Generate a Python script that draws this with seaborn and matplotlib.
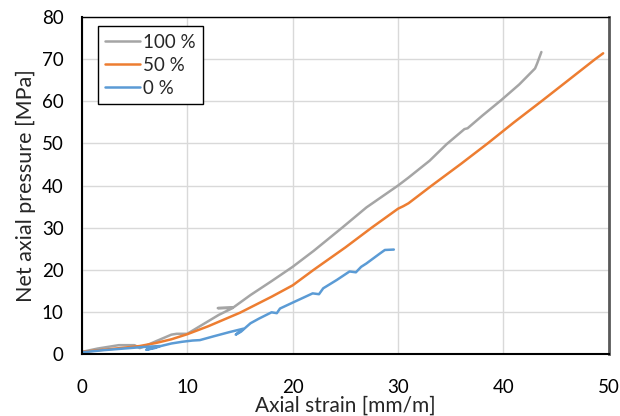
import matplotlib
matplotlib.use("Agg")
import matplotlib.pyplot as plt
import seaborn as sns
import pandas as pd

# Measured curves: axial strain [mm/m] vs net axial pressure [MPa]
strain_100 = [0, 1.5, 3.5, 5.0, 5.5, 6.0, 7.0, 8.5, 9.0, 10.0, 11.0, 12.0, 13.0, 14.3,
              12.9, 14.4, 16.0, 18.0, 20.0, 22.0, 24.7, 27.0, 30.0, 31.0, 33.0, 34.6,
              36.3, 36.6, 38.0, 39.8, 41.5, 43.0, 43.2, 43.6]
pressure_100 = [0.5, 1.3, 2.1, 2.1, 1.4, 1.9, 3.0, 4.6, 4.8, 4.8, 6.3, 7.8, 9.3, 10.9,
                10.9, 11.1, 14.0, 17.3, 20.7, 24.5, 30.0, 34.8, 40.0, 41.9, 45.9, 49.8,
                53.4, 53.6, 56.6, 60.3, 64.0, 67.8, 69.0, 71.7]

strain_50 = [0, 2, 4, 5.5, 7, 8.5, 10, 12, 15, 18, 20, 22, 25, 27.5, 30, 30.5, 31,
             33.2, 36, 38.5, 41, 43.6, 46, 48.7, 49.46]
pressure_50 = [0.5, 1.0, 1.5, 1.9, 2.6, 3.5, 4.7, 6.6, 9.8, 13.6, 16.3, 20.0, 25.3,
               30.0, 34.5, 35.1, 35.8, 40.0, 45.2, 50.0, 55.0, 60.0, 64.7, 70.0, 71.4]

strain_0 = [0, 2, 4, 6, 7.4, 6.1, 6.9, 7.5, 8.5, 9.5, 10.5, 11.2, 12.5, 14.0, 15.3,
            14.6, 15.1, 15.5, 16.0, 16.8, 18.0, 18.5, 18.8, 20.0, 21.9, 22.5, 22.9,
            24.2, 25.4, 26.0, 26.5, 27.0, 28.3, 28.75, 29.6]
pressure_0 = [0.4, 0.9, 1.3, 1.7, 1.9, 1.0, 1.4, 1.9, 2.5, 2.9, 3.2, 3.3, 4.2, 5.2, 6.0,
              4.6, 5.3, 6.2, 7.3, 8.4, 9.9, 9.7, 10.8, 12.2, 14.4, 14.2, 15.6,
              17.6, 19.6, 19.4, 20.7, 21.5, 23.9, 24.7, 24.8]

series_labels = ["100 %", "50 %", "0 %"]
series_colors = ["#A5A5A5", "#ED7D31", "#5B9BD5"]

frames = []
for label, xs, ys in zip(series_labels,
                         [strain_100, strain_50, strain_0],
                         [pressure_100, pressure_50, pressure_0]):
    frames.append(pd.DataFrame({"strain": xs, "pressure": ys, "series": label}))
df = pd.concat(frames, ignore_index=True)

sns.set_theme(style="white")
plt.rcParams["font.family"] = ["Lato", "DejaVu Sans"]

fig = plt.figure(figsize=(6.2, 4.16), dpi=100)
ax = fig.add_axes([0.132, 0.149, 0.850, 0.810])

sns.lineplot(data=df, x="strain", y="pressure", hue="series",
             hue_order=series_labels, palette=series_colors,
             sort=False, estimator=None, linewidth=1.8, ax=ax)

ax.set_xlim(0, 50)
ax.set_ylim(0, 80)
ax.set_xticks(range(0, 51, 10))
ax.set_yticks(range(0, 81, 10))
ax.grid(True, color="#D9D9D9", linewidth=1.0)
ax.set_axisbelow(True)
ax.tick_params(axis="both", labelsize=13.5, length=0, colors="black")
ax.tick_params(axis="x", pad=18)
ax.tick_params(axis="y", pad=13)

for side in ["left", "bottom", "top"]:
    ax.spines[side].set_color("black")
ax.spines["left"].set_linewidth(1.5)
ax.spines["bottom"].set_linewidth(1.5)
ax.spines["top"].set_linewidth(1.0)
ax.spines["right"].set_color("#595959")
ax.spines["right"].set_linewidth(2.0)

ax.set_xlabel("Axial strain [mm/m]", fontsize=15, labelpad=0)
ax.set_ylabel("Net axial pressure [MPa]", fontsize=15.5, labelpad=4)

leg = ax.legend(loc="upper left", bbox_to_anchor=(0.03, 0.972), fontsize=13.5,
                frameon=True, fancybox=False, edgecolor="black", framealpha=1,
                handlelength=1.9, labelspacing=0.32, borderpad=0.38,
                handletextpad=0.15, borderaxespad=0)
leg.get_frame().set_linewidth(1.0)

fig.savefig("out.png", dpi=100)
